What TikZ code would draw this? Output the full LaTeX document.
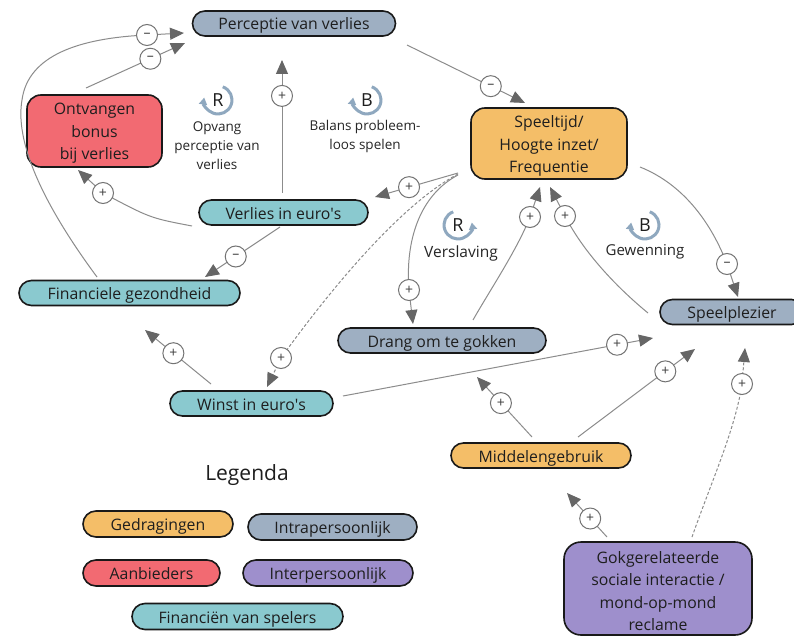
\documentclass[tikz,border=0pt]{standalone}
\usepackage{fontspec}
\setmainfont{Open Sans}
\usetikzlibrary{shapes.misc,arrows.meta,calc}
\definecolor{cintra}{HTML}{9EAFC2}
\definecolor{corange}{HTML}{F4BE68}
\definecolor{cred}{HTML}{F26A72}
\definecolor{cteal}{HTML}{8AC9CF}
\definecolor{cpurple}{HTML}{9E8FCC}
\definecolor{edgec}{HTML}{8C8C8C}
\definecolor{tipc}{HTML}{666666}
\definecolor{loopc}{HTML}{8FA8BF}
\definecolor{txt}{HTML}{1E1E1E}
\begin{document}
\begin{tikzpicture}[x=1pt,y=1pt,
 pill/.style={rounded rectangle, draw=black!90, line width=1.6pt, minimum height=25pt, inner sep=0pt, text height=14pt, text depth=1pt, font=\fontsize{15.8}{17}\selectfont, text=txt},
 box/.style={rectangle, rounded corners=14pt, draw=black!90, line width=1.6pt, inner sep=0pt},
 boxtext/.style={inner sep=0pt, align=center, font=\fontsize{15.8}{22.5}\selectfont, text=txt},
 sign/.style={solid, circle, draw=black!55, fill=white, line width=1pt, minimum size=21pt, inner sep=0pt, font=\fontsize{14}{14}\selectfont, text=black!75},
 link/.style={draw=edgec, line width=1pt, -{Triangle[length=14pt,width=12pt,color=tipc]}},
 dlink/.style={link, dash pattern=on 3pt off 2pt},
 looparc/.style={draw=loopc, line width=3pt, -{Triangle[length=7pt,width=8pt]}},
 looplet/.style={font=\fontsize{18}{18}\selectfont, text=txt},
 looplab/.style={align=center, font=\fontsize{13.5}{19}\selectfont, text=black!85},
]
\clip (0,0) rectangle (794,-636);
\fill[white] (0,0) rectangle (794,-636);

% main nodes
\node[pill, fill=cintra, minimum width=203pt] (pv) at (294,-23.5) {Perceptie van verlies};
\node[box, fill=cred, minimum width=135pt, minimum height=72pt] (bonus) at (94.5,-131) {};
\node[boxtext] (bonustxt) at ($(bonus)+(0,-2.5)$) {Ontvangen\\bonus\\bij verlies};
\node[box, fill=corange, minimum width=156pt, minimum height=71pt] (spt) at (549,-143.5) {};
\node[boxtext] (spttxt) at ($(spt)+(0,-2.5)$) {Speeltijd/\\Hoogte inzet/\\Frequentie};
\node[pill, fill=cteal, minimum width=169pt] (verl) at (283.5,-212.5) {Verlies in euro\textquotesingle s};
\node[pill, fill=cteal, minimum width=221pt] (fin) at (129.5,-293) {Financiele gezondheid};
\node[pill, fill=cintra, minimum width=144pt] (plez) at (732,-312) {Speelplezier};
\node[pill, fill=cintra, minimum width=208pt] (drang) at (442,-340.5) {Drang om te gokken};
\node[pill, fill=cteal, minimum width=163pt] (winst) at (251.5,-403.5) {Winst in euro\textquotesingle s};
\node[pill, fill=corange, minimum width=180pt] (midd) at (541,-455.5) {Middelengebruik};
\node[box, fill=cpurple, rounded corners=17pt, minimum width=188pt, minimum height=93pt] (gok) at (658,-588.5) {};
\node[boxtext] (goktxt) at ($(gok)+(0,-2.5)$) {Gokgerelateerde\\sociale interactie /\\mond-op-mond\\reclame};

% legend
\node[font=\fontsize{21}{21}\selectfont, text=txt] (leg) at (247,-475) {Legenda};
\node[pill, fill=corange, minimum width=150pt, minimum height=26pt] (lg1) at (158,-524) {Gedragingen};
\node[pill, fill=cintra, minimum width=169pt, minimum height=26pt] (lg2) at (332.5,-527) {Intrapersoonlijk};
\node[pill, fill=cred, minimum width=137pt, minimum height=26pt] (lg3) at (151.5,-573) {Aanbieders};
\node[pill, fill=cpurple, minimum width=170pt, minimum height=26pt] (lg4) at (328,-573) {Interpersoonlijk};
\node[pill, fill=cteal, minimum width=211pt, minimum height=26pt] (lg5) at (237.5,-616.5) {Financiën van spelers};

% loop markers
\node[looplet] (r1) at (218,-100) {R};
\draw[looparc] ($(r1)+(70:14)$) arc[start angle=70, end angle=-190, radius=14];
\node[looplab] (r1l) at (217,-146) {Opvang\\perceptie van\\verlies};
\node[looplet] (b1) at (367,-100) {B};
\draw[looparc] ($(b1)+(70:14)$) arc[start angle=70, end angle=-190, radius=14];
\node[looplab] (b1l) at (365,-136) {Balans probleem-\\loos spelen};
\node[looplet] (r2) at (458,-225) {R};
\draw[looparc] ($(r2)+(110:14)$) arc[start angle=110, end angle=370, radius=14];
\node[looplab, font=\fontsize{15.5}{17}\selectfont] (r2l) at (461,-253) {Verslaving};
\node[looplet] (b2) at (645,-225) {B};
\draw[looparc] ($(b2)+(70:14)$) arc[start angle=70, end angle=-190, radius=14];
\node[looplab, font=\fontsize{15}{17}\selectfont] (b2l) at (645,-252) {Gewenning};

% connectors
\draw[link] ($(fin)+(-32.5,16)$) .. controls (40,-200) and (15,-140) .. (22,-100)
  .. controls (28,-55) and (80,-38) .. (147,-35) node[sign]{–} -- ($(pv)+(-110,-9.5)$);
\draw[link] ($(bonus)+(-8.5,43)$) -- node[sign,pos=0.65]{–} ($(pv)+(-109,-19.5)$);
\draw[link] ($(verl)+(-1.5,19.5)$) -- node[sign,pos=0.73]{+} ($(pv)+(-12,-36.5)$);
\draw[link] ($(verl)+(-91.5,-13.5)$) .. controls (150,-218) .. (103,-193) node[sign]{+} -- ($(bonus)+(-16.5,-39)$);
\draw[link] ($(verl)+(-3.5,-14.5)$) -- node[sign,pos=0.59]{–} ($(fin)+(75.5,16)$);
\draw[link] ($(pv)+(113,-21.5)$) -- node[sign,pos=0.71]{–} ($(spt)+(-24,40.5)$);
\draw[link] ($(spt)+(-91,-29.5)$) -- node[sign,pos=0.59]{+} ($(verl)+(91.5,15.5)$);
\draw[dlink] ($(spt)+(-91,-30.5)$) .. controls (400,-205) and (330,-290) .. (281,-358) node[sign]{+} -- ($(winst)+(15.5,16.5)$);
\draw[link] ($(spt)+(-91,-31.5)$) .. controls (420,-195) and (405,-240) .. (409,-290) node[sign]{+} -- ($(drang)+(-29,16.5)$);
\draw[link] ($(drang)+(31,20.5)$) .. controls (490,-290) and (517,-250) .. (530,-217) node[sign]{+} -- ($(spt)+(-9,-43.5)$);
\draw[link] ($(plez)+(-84,-1)$) .. controls (620,-290) and (585,-255) .. (565,-216) node[sign]{+} -- ($(spt)+(1,-43.5)$);
\draw[link] ($(spt)+(91,-23.5)$) .. controls (685,-185) and (712,-225) .. (727,-264) node[sign]{–} -- ($(plez)+(6,15)$);
\draw[link] ($(winst)+(-40.5,19.5)$) -- node[sign,pos=0.57]{+} ($(fin)+(15.5,-37)$);
\draw[link] ($(winst)+(91.5,7.5)$) -- node[sign,pos=0.884]{+} ($(plez)+(-79,-26)$);
\draw[link] ($(midd)+(-9,18.5)$) -- node[sign,pos=0.565]{+} ($(drang)+(35,-36.5)$);
\draw[link] ($(midd)+(37,18.5)$) -- node[sign,pos=0.746]{+} ($(plez)+(-37,-37)$);
\draw[link] ($(gok)+(-51,51.5)$) -- node[sign,pos=0.42]{+} ($(midd)+(26,-37.5)$);
\draw[dlink] ($(gok)+(34,51.5)$) .. controls (712,-480) and (735,-430) .. (742,-384) node[sign]{+} -- ($(plez)+(13,-36)$);
\end{tikzpicture}
\end{document}
